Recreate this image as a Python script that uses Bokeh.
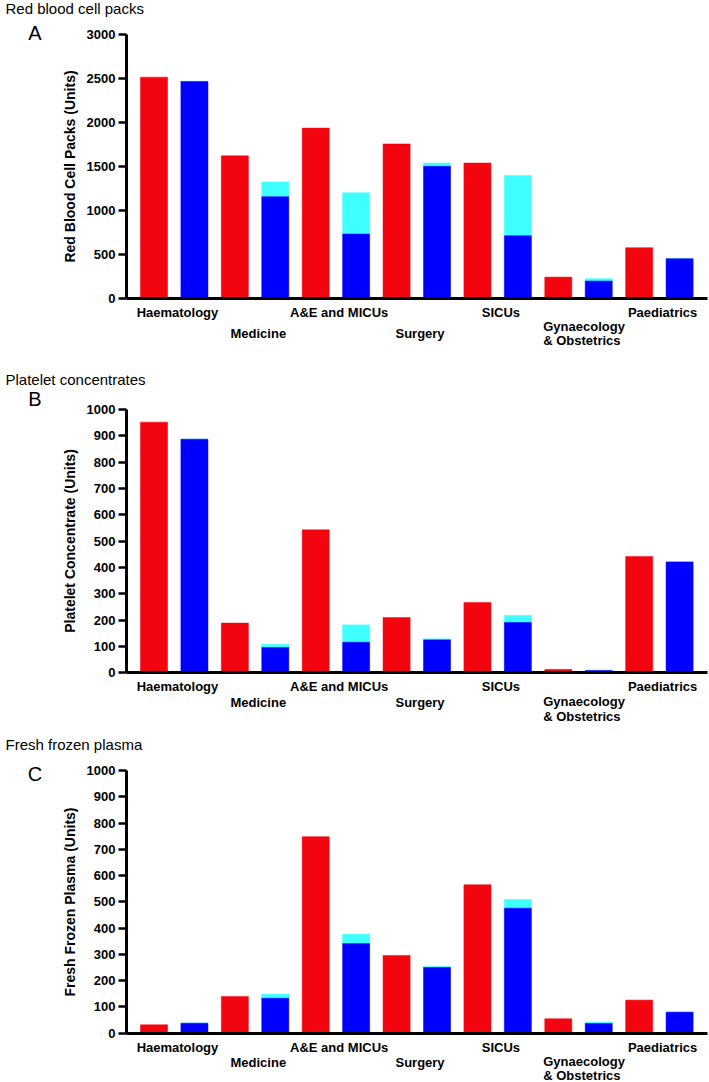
from bokeh.plotting import figure
from bokeh.models import Range1d, FixedTicker, ColumnDataSource
from bokeh.core.properties import value
from bokeh.layouts import column
from bokeh.embed import file_html
from bokeh.resources import INLINE

# ---------------- data ----------------
categories = ["Haematology", "Medicine", "A&E and MICUs", "Surgery", "SICUs",
              "Gynaecology & Obstetrics", "Paediatrics"]

rbc_red = [2515, 1620, 1935, 1755, 1538, 240, 575]
rbc_blue = [2466, 1155, 730, 1500, 711, 195, 449]
rbc_cyan = [0, 167, 470, 38, 684, 27, 0]

plt_red = [952, 189, 543, 210, 267, 13, 442]
plt_blue = [887, 96, 116, 125, 191, 9, 421]
plt_cyan = [0, 12, 66, 4, 27, 0, 0]

ffp_red = [32, 140, 748, 296, 565, 55, 126]
ffp_blue = [38, 133, 341, 250, 476, 37, 80]
ffp_cyan = [0, 16, 36, 4, 33, 5, 0]

RED = "#F2050F"
BLUE = "#0000FF"
CYAN = "#40FFFF"
FONT = "Liberation Sans"

# ---------------- geometry (page px) ----------------
W = 709
AX_L, AX_R = 126, 707          # y-axis position and end of x-axis
X0, X1 = -0.68, 13.69          # index units at AX_L / AX_R
PXU = (AX_R - AX_L) / (X1 - X0)
BAR_W = 0.67

panels = [
    dict(title="Red blood cell packs", letter="A", ylabel="Red Blood Cell Packs (Units)",
         ymax=3000, step=500, red=rbc_red, blue=rbc_blue, cyan=rbc_cyan,
         fig_top=0, fig_bot=352, y_top=34, y_zero=297.7,
         title_y=8, letter_y=32.5, upper=14, lower=35, gyn=28.5, obs=42.5),
    dict(title="Platelet concentrates", letter="B", ylabel="Platelet Concentrate (Units)",
         ymax=1000, step=100, red=plt_red, blue=plt_blue, cyan=plt_cyan,
         fig_top=352, fig_bot=725, y_top=409, y_zero=672.3,
         title_y=378.5, letter_y=398.5, upper=14, lower=29.2, gyn=28.2, obs=43.2),
    dict(title="Fresh frozen plasma", letter="C", ylabel="Fresh Frozen Plasma (Units)",
         ymax=1000, step=100, red=ffp_red, blue=ffp_blue, cyan=ffp_cyan,
         fig_top=725, fig_bot=1082, y_top=770, y_zero=1032.7,
         title_y=743.5, letter_y=773.5, upper=14, lower=29.3, gyn=28.3, obs=42.3),
]

upper_row = {0, 2, 4, 6}


def px2x(px):
    return X0 + (px - AX_L) / PXU


figs = []
for P in panels:
    ymax = P["ymax"]
    upp = ymax / (P["y_zero"] - P["y_top"])   # data units per px

    def py2y(py, P=P, upp=upp):
        return (P["y_zero"] - py) * upp

    H = P["fig_bot"] - P["fig_top"]
    p = figure(width=W, height=H,
               min_border_left=0, min_border_right=0,
               min_border_top=0, min_border_bottom=0,
               x_range=Range1d(px2x(0), px2x(W)),
               y_range=Range1d(py2y(P["fig_bot"]), py2y(P["fig_top"])),
               output_backend="svg", toolbar_location=None,
               background_fill_color="white", border_fill_color="white")
    p.outline_line_color = None
    p.grid.visible = False

    n = len(categories)
    src = ColumnDataSource(dict(
        xr=[2 * k for k in range(n)],
        xb=[2 * k + 1 for k in range(n)],
        red=P["red"], blue=P["blue"],
        cyan_top=[b + c for b, c in zip(P["blue"], P["cyan"])],
    ))
    p.vbar(x="xr", top="red", bottom=0, width=BAR_W, source=src,
           fill_color=RED, line_color=RED, line_width=0.5)
    p.vbar(x="xb", top="cyan_top", bottom="blue", width=BAR_W, source=src,
           fill_color=CYAN, line_color=CYAN, line_width=0.5)
    p.vbar(x="xb", top="blue", bottom=0, width=BAR_W, source=src,
           fill_color=BLUE, line_color=BLUE, line_width=0.5)

    # y axis, pinned at the left end of the data area
    ya = p.yaxis[0]
    ya.fixed_location = X0
    ya.bounds = (0, ymax)
    ya.ticker = FixedTicker(ticks=list(range(0, ymax + 1, P["step"])), minor_ticks=[])
    ya.axis_label = P["ylabel"]
    ya.axis_label_text_font = FONT
    ya.axis_label_text_font_style = "bold"
    ya.axis_label_text_font_size = "14px"
    ya.axis_label_text_color = "black"
    ya.axis_label_standoff = 6
    ya.major_label_text_font = FONT
    ya.major_label_text_font_style = "bold"
    ya.major_label_text_font_size = "13px"
    ya.major_label_text_color = "black"
    ya.major_label_standoff = 3
    ya.major_tick_out = 8
    ya.major_tick_in = 0
    ya.minor_tick_out = 0
    ya.minor_tick_in = 0
    ya.major_tick_line_width = 2.5
    ya.axis_line_width = 3
    ya.axis_line_color = "black"

    # x axis: baseline at zero only
    xa = p.xaxis[0]
    xa.fixed_location = 0
    xa.bounds = (X0, X1)
    xa.ticker = FixedTicker(ticks=[])
    xa.major_tick_out = 0
    xa.major_tick_in = 0
    xa.minor_tick_out = 0
    xa.minor_tick_in = 0
    xa.major_label_text_font_size = "0px"
    xa.axis_line_width = 3
    xa.axis_line_color = "black"

    # panel title and letter
    p.text(x=[px2x(5)], y=[py2y(P["title_y"])], text=[P["title"]],
           text_font=value(FONT), text_font_size="15px", text_color="black",
           text_align="left", text_baseline="middle")
    p.text(x=[px2x(34.5)], y=[py2y(P["letter_y"])], text=[P["letter"]],
           text_font=value(FONT), text_font_size="20px", text_color="black",
           text_align="center", text_baseline="middle")

    # category labels (staggered)
    cx_c, cy_c, ct_c = [], [], []
    cx_l, cy_l, ct_l = [], [], []
    for k, name in enumerate(categories):
        cx = 2 * k + 0.5
        if k == 5:
            first, second = name.split(" & ")
            lx = cx - 0.873
            cx_l += [lx, lx]
            cy_l += [py2y(P["y_zero"] + P["gyn"]), py2y(P["y_zero"] + P["obs"])]
            ct_l += [first, "& " + second]
        else:
            off = P["upper"] if k in upper_row else P["lower"]
            cx_c.append(cx + 0.08)
            cy_c.append(py2y(P["y_zero"] + off))
            ct_c.append(name)
    p.text(x=cx_c, y=cy_c, text=ct_c, text_font=value(FONT), text_font_size="13px",
           text_font_style="bold", text_color="black",
           text_align="center", text_baseline="middle")
    p.text(x=cx_l, y=cy_l, text=ct_l, text_font=value(FONT), text_font_size="13px",
           text_font_style="bold", text_color="black",
           text_align="left", text_baseline="middle")
    figs.append(p)

layout = column(*figs, spacing=0)
open("out.html", "w").write(file_html(layout, INLINE))
